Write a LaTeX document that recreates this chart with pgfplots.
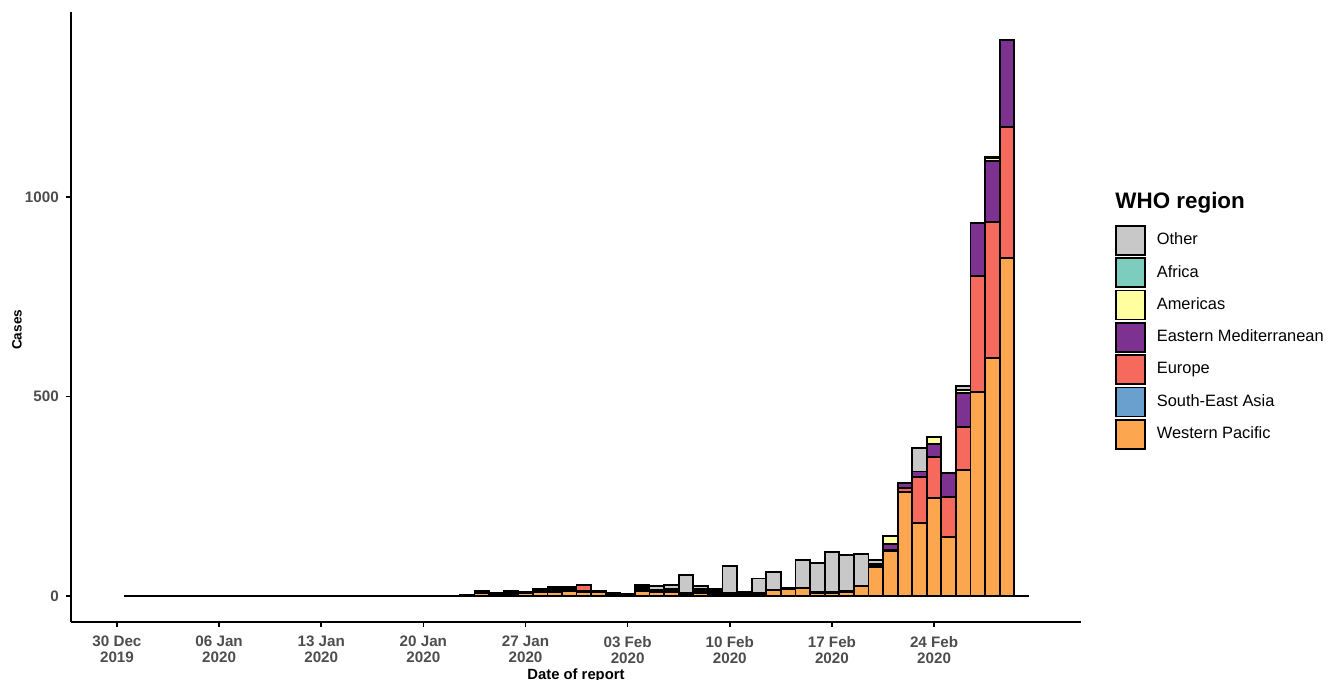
\documentclass[border=0pt]{standalone}
\usepackage{pgfplots}
\usepackage{pgfplotstable}
\pgfplotsset{compat=1.18}
\usepackage{fontspec}
\setmainfont{Liberation Sans}
\definecolor{cWP}{RGB}{252,166,80}
\definecolor{cSEA}{RGB}{105,160,205}
\definecolor{cEU}{RGB}{246,106,94}
\definecolor{cEM}{RGB}{125,50,145}
\definecolor{cAM}{RGB}{255,255,160}
\definecolor{cAF}{RGB}{125,205,190}
\definecolor{cOT}{RGB}{200,200,200}
\definecolor{txtgray}{RGB}{77,77,77}
\pgfplotstableread{
d WP SEA EU EM AM AF OT
1 0 0 0 0 0 0 0
2 0 0 0 0 0 0 0
3 0 0 0 0 0 0 0
4 0 0 0 0 0 0 0
5 0 0 0 0 0 0 0
6 0 0 0 0 0 0 0
7 0 0 0 0 0 0 0
8 0 0 0 0 0 0 0
9 1 0 0 0 0 0 0
10 0 0 0 0 0 0 0
11 0 0 0 0 0 0 0
12 0 0 0 0 0 0 0
13 0 0 0 0 0 0 0
14 1 0 0 0 0 0 0
15 1 0 0 0 0 0 0
16 0 0 0 0 0 0 0
17 0 0 0 0 0 0 0
18 1 0 0 0 0 0 0
19 1 0 0 0 0 0 0
20 1 0 0 0 0 0 0
21 1 0 0 0 0 0 0
22 0 0 0 0 0 0 0
23 1 0 0 0 0 0 0
24 2 0 0 0 0 0 0
25 8 2 2 0 0 0 0
26 5 0 2 0 0 0 0
27 6 2 2 0 2 0 0
28 7 0 2 0 2 0 0
29 9 2 2 2 2 0 0
30 10 2 3 2 3 0 2
31 12 2 3 2 3 0 0
32 10 4 14 0 0 0 0
33 10 0 2 0 2 0 0
34 5 0 2 0 2 0 0
35 3 0 2 0 0 0 0
36 13 2 5 0 3 0 5
37 10 2 2 0 2 0 10
38 10 2 3 0 2 0 11
39 4 2 2 0 0 0 45
40 8 3 3 2 3 0 7
41 5 2 3 0 2 0 5
42 3 2 3 0 0 0 67
43 4 0 2 1 2 0 2
44 4 0 3 0 0 0 37
45 15 0 0 0 0 0 46
46 18 0 2 0 0 0 0
47 20 0 0 0 0 0 70
48 8 0 3 0 0 0 72
49 8 0 2 0 0 0 101
50 11 0 2 0 0 0 90
51 25 0 0 0 0 0 80
52 73 0 4 0 3 0 10
53 113 0 3 15 19 0 0
54 261 0 10 13 0 0 0
55 183 0 116 13 0 0 59
56 246 0 103 32 17 0 0
57 149 0 99 61 0 0 0
58 316 0 108 85 7 0 10
59 511 0 291 134 0 0 0
60 596 0 342 153 6 0 4
61 847 0 328 218 0 0 0
62 0 0 0 0 0 0 0
}\data
\pgfplotsset{
  sq/.style={legend image code/.code={\draw[##1,line width=0.9bp] (0bp,-7.25bp) rectangle (14.5bp,7.25bp);}},
}
\begin{document}
\begin{tikzpicture}
\path[use as bounding box] (-35.5bp,-29bp) rectangle (631.5bp,311bp);
\begin{axis}[
  at={(0,0)}, anchor=south west,
  scale only axis, width=505bp, height=305bp,
  ybar stacked, bar width=1,
  xmin=-3.15, xmax=66.07, ymin=-65, ymax=1464,
  axis lines=left, axis line style={-, line width=0.9bp, black},
  tick align=outside, major tick length=2.6bp,
  tick style={line width=0.8bp, black},
  xtick={0,7,14,21,28,35,42,49,56},
  xticklabels={30 Dec\\2019,06 Jan\\2020,13 Jan\\2020,20 Jan\\2020,27 Jan\\2020,03 Feb\\2020,10 Feb\\2020,17 Feb\\2020,24 Feb\\2020},
  xticklabel style={align=center, yshift=-1bp, font=\fontsize{7.6bp}{8bp}\selectfont\bfseries, text=txtgray},
  ytick={0,500,1000},
  yticklabel style={font=\fontsize{7.6bp}{8bp}\selectfont\bfseries, text=txtgray, /pgf/number format/1000 sep={}},
  /pgf/number format/assume math mode=true,
  xlabel={Date of report}, ylabel={Cases},
  xlabel style={at={(axis description cs:0.5,-0.0885)}, anchor=center, font=\fontsize{7.4bp}{8bp}\selectfont\bfseries},
  ylabel style={at={(axis description cs:-0.0535,0.479)}, anchor=center, font=\fontsize{6.8bp}{8bp}\selectfont\bfseries},
  reverse legend,
  legend style={at={(rel axis cs:1.0337,0.6508)}, anchor=north west, draw=none, fill=none,
    inner sep=0pt, outer sep=0pt, row sep=0.75bp, column sep=5.5bp,
    font=\fontsize{8.2bp}{9bp}\selectfont,
    nodes={inner sep=0pt, anchor=west}},
  legend cell align=left,
  clip=false,
]
\addplot+[fill=cWP, draw=black, line width=0.9bp, sq] table[x=d,y=WP] \data;
\addlegendentry{Western Pacific}
\addplot+[fill=cSEA, draw=black, line width=0.9bp, sq] table[x=d,y=SEA] \data;
\addlegendentry{South-East Asia}
\addplot+[fill=cEU, draw=black, line width=0.9bp, sq] table[x=d,y=EU] \data;
\addlegendentry{Europe}
\addplot+[fill=cEM, draw=black, line width=0.9bp, sq] table[x=d,y=EM] \data;
\addlegendentry{Eastern Mediterranean}
\addplot+[fill=cAM, draw=black, line width=0.9bp, sq] table[x=d,y=AM] \data;
\addlegendentry{Americas}
\addplot+[fill=cAF, draw=black, line width=0.9bp, sq] table[x=d,y=AF] \data;
\addlegendentry{Africa}
\addplot+[fill=cOT, draw=black, line width=0.9bp, sq] table[x=d,y=OT] \data;
\addlegendentry{Other}
\draw[line width=0.9bp, black] (axis cs:0.5,0) -- (axis cs:62.5,0);
\node[anchor=west, inner sep=0pt, font=\fontsize{11.2bp}{13bp}\selectfont\bfseries] at (rel axis cs:1.0337,0.6869) {WHO region};
\end{axis}
\end{tikzpicture}
\end{document}
